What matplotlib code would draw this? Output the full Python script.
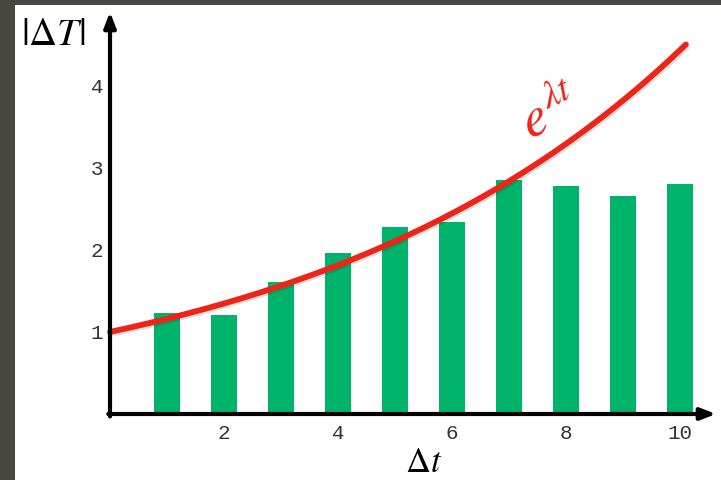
import numpy as np
import matplotlib
matplotlib.use("Agg")
import matplotlib.pyplot as plt
from matplotlib.patches import Rectangle
import matplotlib.patheffects as pe

# data
steps = [1, 2, 3, 4, 5, 6, 7, 8, 9, 10]
dT_abs = [1.23, 1.21, 1.61, 1.96, 2.28, 2.34, 2.85, 2.78, 2.66, 2.80]
lam = 0.149          # growth rate of the reference curve e^{lambda t}
t_end = 10.1         # curve stops here
x_ticks = [2, 4, 6, 8, 10]
y_ticks = [1, 2, 3, 4]

plt.rcParams["mathtext.fontset"] = "stix"

fig = plt.figure(figsize=(7.21, 4.80), dpi=100)
fig.patch.set_facecolor("#4a4743")
# white slide panel
fig.add_artist(Rectangle((15 / 721, 0), 1 - 15 / 721, 1 - 5 / 480,
                         transform=fig.transFigure, facecolor="white",
                         edgecolor="none", zorder=0))

ax = fig.add_axes([110 / 721, 66 / 480, 606 / 721, 402 / 480])
ax.set_facecolor("none")
xmax, ymax = 10.63, 4.9
ax.set_xlim(0, xmax)
ax.set_ylim(0, ymax)
for s in ax.spines.values():
    s.set_visible(False)

ax.bar(steps, dT_abs, width=0.47, color="#00b36b", zorder=2)

t = np.linspace(0, t_end, 200)
ax.plot(t, np.exp(lam * t), color="#ee2418", lw=4.2, solid_capstyle="round",
        zorder=3, clip_on=False,
        path_effects=[pe.SimpleLineShadow(offset=(1.2, -1.2), alpha=0.12), pe.Normal()])

# arrow axes
arrow = dict(arrowstyle="-|>,head_length=0.9,head_width=0.35", lw=3, color="black",
             shrinkA=0, shrinkB=0)
ax.annotate("", xy=(xmax, 0), xytext=(-0.03, 0), arrowprops=arrow,
            annotation_clip=False, zorder=4)
ax.annotate("", xy=(0, ymax), xytext=(0, -0.03), arrowprops=arrow,
            annotation_clip=False, zorder=4)

ax.set_xticks(x_ticks)
ax.set_yticks(y_ticks)
ax.tick_params(length=0, labelsize=15, labelcolor="#333333", pad=7)
ax.tick_params(axis="y", pad=5)
for lab in ax.get_xticklabels() + ax.get_yticklabels():
    lab.set_family("Liberation Mono")

ax.text(-1.0, 4.63, r"$|\Delta T|$", fontsize=28, ha="center", va="center")
ax.text(5.5, -0.58, r"$\Delta t$", fontsize=25, ha="center", va="center")
ax.text(7.72, 3.66, r"$e^{\lambda t}$", fontsize=40, color="#ee2418",
        ha="center", va="center", rotation=25)

fig.savefig("out.png", dpi=100, facecolor=fig.get_facecolor())
